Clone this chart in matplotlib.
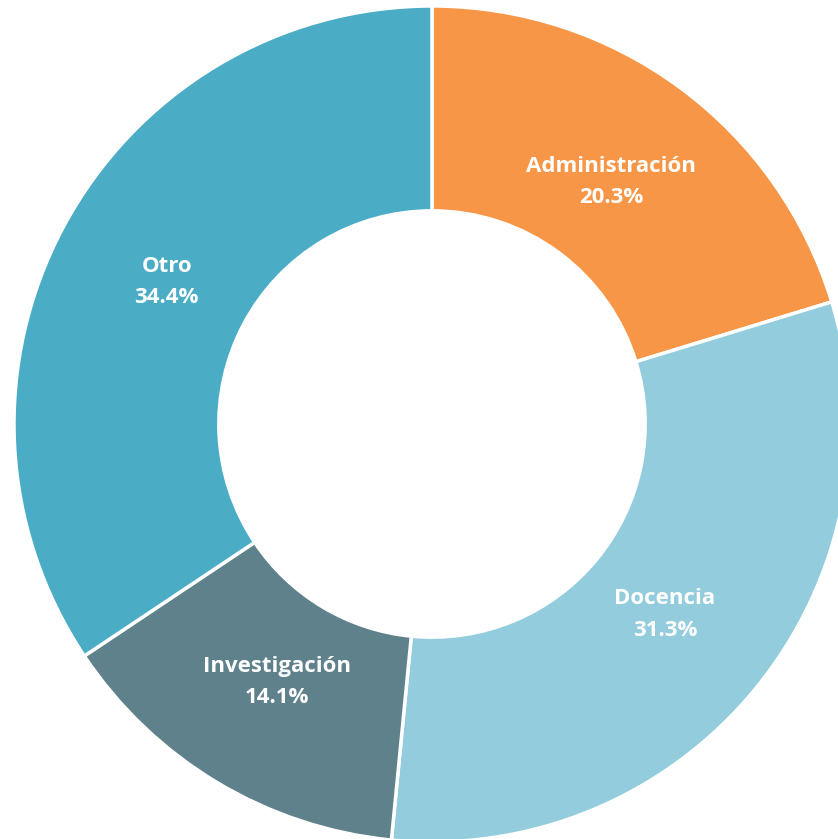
import matplotlib.pyplot as plt

categorias = ["Administración", "Docencia", "Investigación", "Otro"]
valores = [20.3, 31.3, 14.1, 34.4]
colores = ["#F79646", "#93CDDD", "#5F818C", "#4BACC6"]

fig = plt.figure(figsize=(8.38, 8.39), dpi=100)
ax = fig.add_axes([0, 0, 1, 1])

etiquetas = iter(categorias)
ax.pie(
    valores,
    colors=colores,
    startangle=90,
    counterclock=False,
    radius=1.0,
    wedgeprops=dict(width=0.49, edgecolor="white", linewidth=2.5),
    autopct=lambda p: f"{next(etiquetas)}\n{p:.1f}%",
    pctdistance=0.72,
    textprops=dict(color="white", fontsize=16, fontweight="bold",
                   family=["Open Sans", "DejaVu Sans"], linespacing=1.65),
)

# centro (432, 424) px, radio 418 px
ax.set_aspect("auto")
ax.set_xlim(-432 / 418, (838 - 432) / 418)
ax.set_ylim(-(839 - 424) / 418, 424 / 418)
ax.axis("off")

fig.savefig("out.png", dpi=100, facecolor="white")
